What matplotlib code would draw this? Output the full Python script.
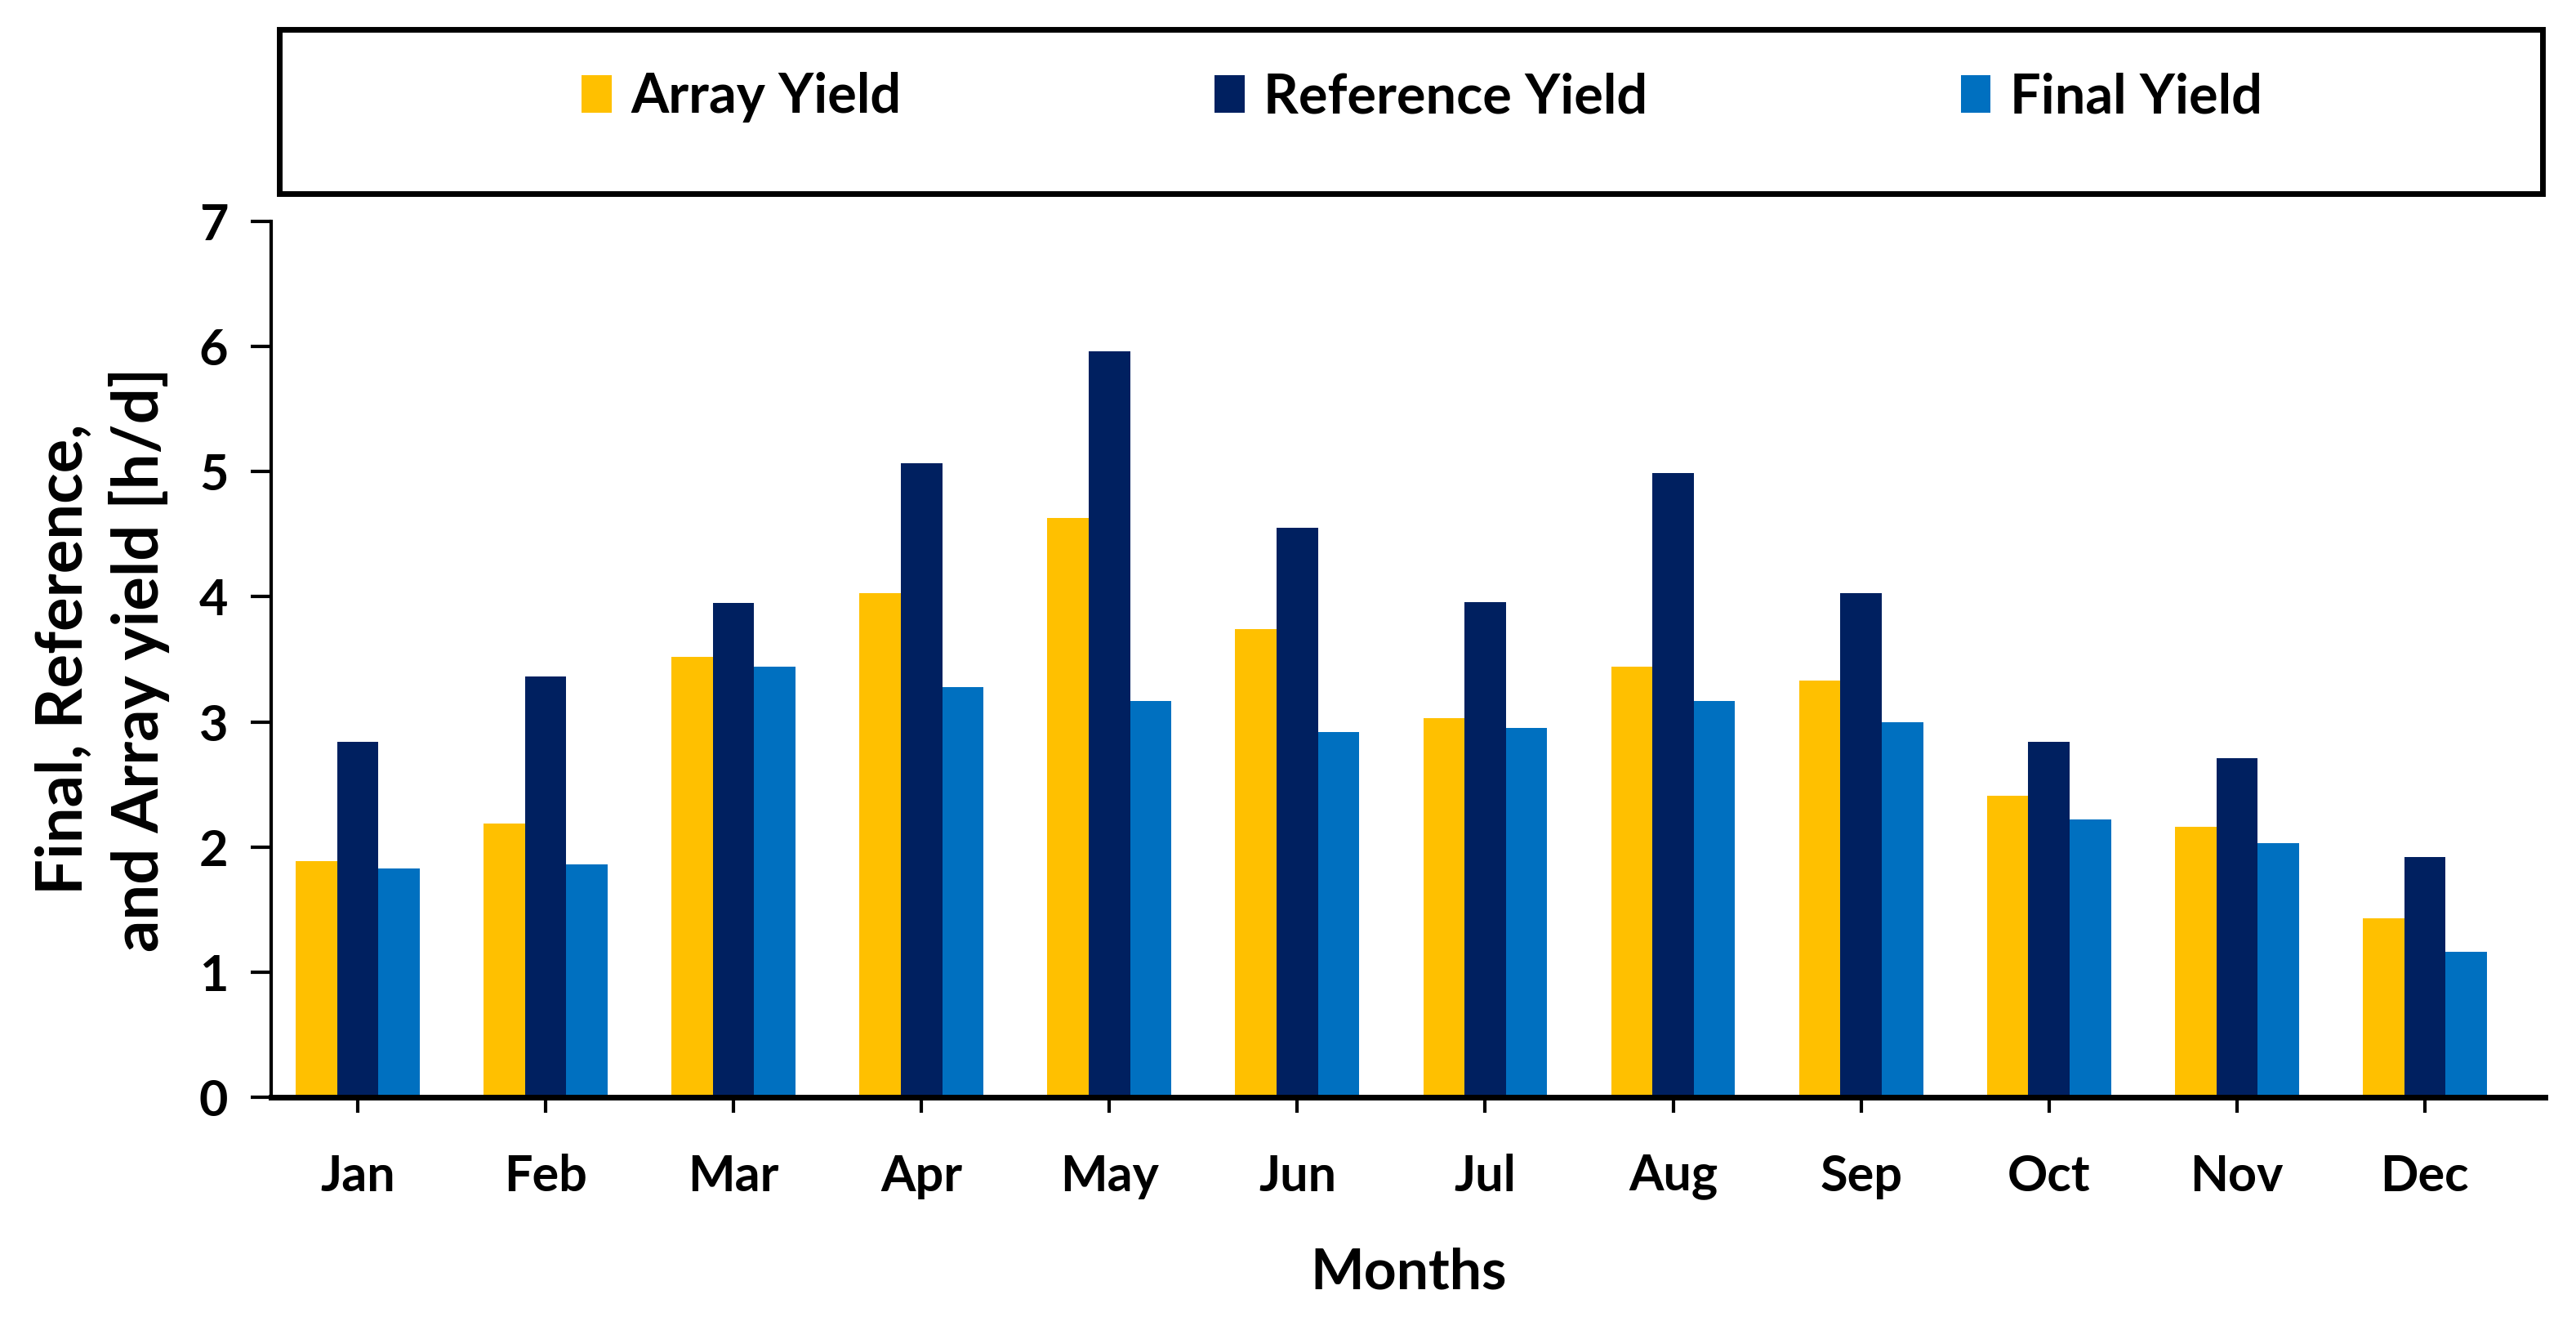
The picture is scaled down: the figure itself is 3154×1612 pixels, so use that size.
import matplotlib
matplotlib.use("Agg")
import matplotlib.pyplot as plt
import numpy as np
from matplotlib.patches import Rectangle

# Monthly yields [h/d]
months = ["Jan", "Feb", "Mar", "Apr", "May", "Jun",
          "Jul", "Aug", "Sep", "Oct", "Nov", "Dec"]
array_yield = [1.89, 2.19, 3.52, 4.03, 4.63, 3.74, 3.03, 3.44, 3.33, 2.41, 2.16, 1.43]
reference_yield = [2.84, 3.36, 3.95, 5.07, 5.96, 4.55, 3.96, 4.99, 4.03, 2.84, 2.71, 1.92]
final_yield = [1.83, 1.86, 3.44, 3.28, 3.17, 2.92, 2.95, 3.17, 3.00, 2.22, 2.03, 1.16]

series_names = ["Array Yield", "Reference Yield", "Final Yield"]
colors = ["#FFC000", "#002060", "#0070C0"]

plt.rcParams["font.family"] = ["Lato", "DejaVu Sans"]
plt.rcParams["font.weight"] = "bold"

fig = plt.figure(figsize=(31.54, 16.12), dpi=100)
ax = fig.add_axes([0.1053, 0.1669, 0.8827, 0.6650])

x = np.arange(len(months))
width = 0.22
for i, (vals, name, c) in enumerate(zip([array_yield, reference_yield, final_yield],
                                        series_names, colors)):
    ax.bar(x + (i - 1) * width, vals, width, color=c, label=name, zorder=2)

ax.set_xlim(-0.46, 11.64)
ax.set_ylim(0, 7)
ax.set_yticks(range(0, 8))
ax.set_xticks(x)
ax.set_xticklabels(months)

for side in ["top", "right"]:
    ax.spines[side].set_visible(False)
ax.spines["left"].set_linewidth(3)
ax.spines["bottom"].set_linewidth(5)

ax.tick_params(axis="y", direction="out", length=18, width=3, pad=20, labelsize=44)
ax.tick_params(axis="x", direction="out", length=14, width=3, pad=36, labelsize=44)
for lbl in ax.get_xticklabels() + ax.get_yticklabels():
    lbl.set_fontweight("bold")

ax.set_ylabel("Final, Reference,\nand Array yield [h/d]", fontsize=56,
              fontweight="bold", labelpad=26, linespacing=1.3)
ax.set_xlabel("Months", fontsize=50, fontweight="bold", labelpad=42)

# legend box drawn across the top
box = Rectangle((0.1084, 0.853), 0.8786, 0.1247, transform=fig.transFigure,
                fill=False, edgecolor="black", linewidth=5)
fig.patches.append(box)
handles, labels = ax.get_legend_handles_labels()
fig.legend(handles, labels, loc="center", bbox_to_anchor=(0.552, 0.926),
           ncol=3, frameon=False, handlelength=0.55,
           handleheight=0.7, handletextpad=0.35, columnspacing=5.75,
           prop={"weight": "bold", "size": 48})

fig.savefig("out.png", dpi=100)
